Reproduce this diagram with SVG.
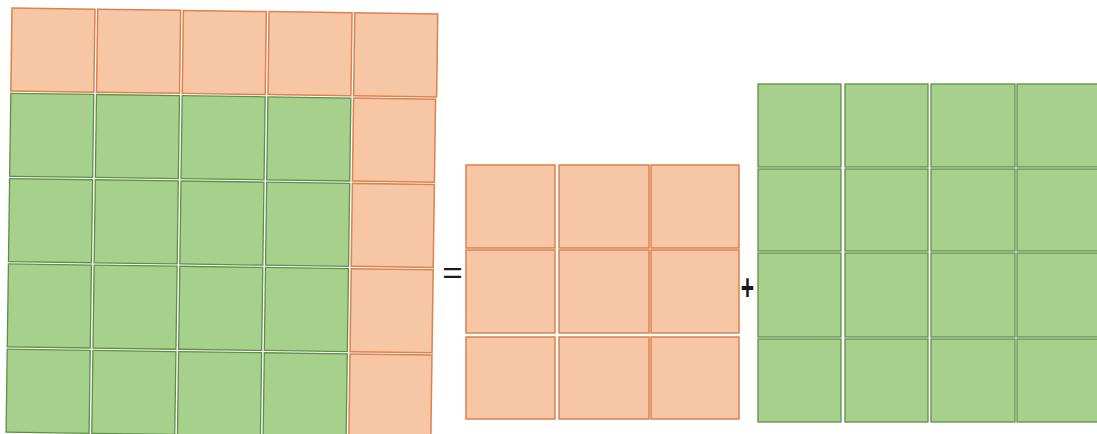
<svg xmlns="http://www.w3.org/2000/svg" width="1097" height="434" viewBox="0 0 1097 434">
<style>
.o{fill:#f7c6a4;stroke:#d9834e;stroke-width:1.5}
.g{fill:#a8d08d;stroke:#5f8f47;stroke-width:1.3}
.op{font-family:"Liberation Sans",Arial,sans-serif;fill:#1a1a1a;text-anchor:middle}
</style>
<rect width="1097" height="434" fill="#ffffff"/>
<g id="big-square" transform="translate(12,8) rotate(0.8)">
<rect class="o" x="0" y="0" width="83" height="83"/>
<rect class="o" x="85.7" y="0" width="83" height="83"/>
<rect class="o" x="171.4" y="0" width="83" height="83"/>
<rect class="o" x="257.1" y="0" width="83" height="83"/>
<rect class="o" x="342.8" y="0" width="83" height="83"/>
<rect class="o" x="342.8" y="85.3" width="82" height="83"/>
<rect class="o" x="342.8" y="170.6" width="82" height="83"/>
<rect class="o" x="342.8" y="255.9" width="82" height="83"/>
<rect class="o" x="342.8" y="341.2" width="82" height="83"/>
<rect class="g" x="0" y="85.3" width="83" height="83"/>
<rect class="g" x="85.7" y="85.3" width="83" height="83"/>
<rect class="g" x="171.4" y="85.3" width="83" height="83"/>
<rect class="g" x="257.1" y="85.3" width="83" height="83"/>
<rect class="g" x="0" y="170.6" width="83" height="83"/>
<rect class="g" x="85.7" y="170.6" width="83" height="83"/>
<rect class="g" x="171.4" y="170.6" width="83" height="83"/>
<rect class="g" x="257.1" y="170.6" width="83" height="83"/>
<rect class="g" x="0" y="255.9" width="83" height="83"/>
<rect class="g" x="85.7" y="255.9" width="83" height="83"/>
<rect class="g" x="171.4" y="255.9" width="83" height="83"/>
<rect class="g" x="257.1" y="255.9" width="83" height="83"/>
<rect class="g" x="0" y="341.2" width="83" height="83"/>
<rect class="g" x="85.7" y="341.2" width="83" height="83"/>
<rect class="g" x="171.4" y="341.2" width="83" height="83"/>
<rect class="g" x="257.1" y="341.2" width="83" height="83"/>
</g>
<g id="equals"><text class="op" transform="translate(452.5,282.6) scale(1.17,1)" font-size="30">=</text></g>
<g id="orange-square">
<rect class="o" x="466" y="165" width="89" height="83"/>
<rect class="o" x="559" y="165" width="90" height="83"/>
<rect class="o" x="651" y="165" width="88" height="83"/>
<rect class="o" x="466" y="250" width="89" height="83"/>
<rect class="o" x="559" y="250" width="90" height="83"/>
<rect class="o" x="651" y="250" width="88" height="83"/>
<rect class="o" x="466" y="337" width="89" height="82"/>
<rect class="o" x="559" y="337" width="90" height="82"/>
<rect class="o" x="651" y="337" width="88" height="82"/>
</g>
<g id="plus"><text class="op" transform="translate(747.5,300) scale(0.62,1)" font-size="37" font-weight="bold">+</text></g>
<g id="green-square">
<rect class="g" x="758" y="84" width="83" height="83"/>
<rect class="g" x="845" y="84" width="83" height="83"/>
<rect class="g" x="931" y="84" width="84" height="83"/>
<rect class="g" x="1017" y="84" width="84" height="83"/>
<rect class="g" x="758" y="169" width="83" height="82"/>
<rect class="g" x="845" y="169" width="83" height="82"/>
<rect class="g" x="931" y="169" width="84" height="82"/>
<rect class="g" x="1017" y="169" width="84" height="82"/>
<rect class="g" x="758" y="253" width="83" height="84"/>
<rect class="g" x="845" y="253" width="83" height="84"/>
<rect class="g" x="931" y="253" width="84" height="84"/>
<rect class="g" x="1017" y="253" width="84" height="84"/>
<rect class="g" x="758" y="339" width="83" height="83"/>
<rect class="g" x="845" y="339" width="83" height="83"/>
<rect class="g" x="931" y="339" width="84" height="83"/>
<rect class="g" x="1017" y="339" width="84" height="83"/>
</g>
</svg>
